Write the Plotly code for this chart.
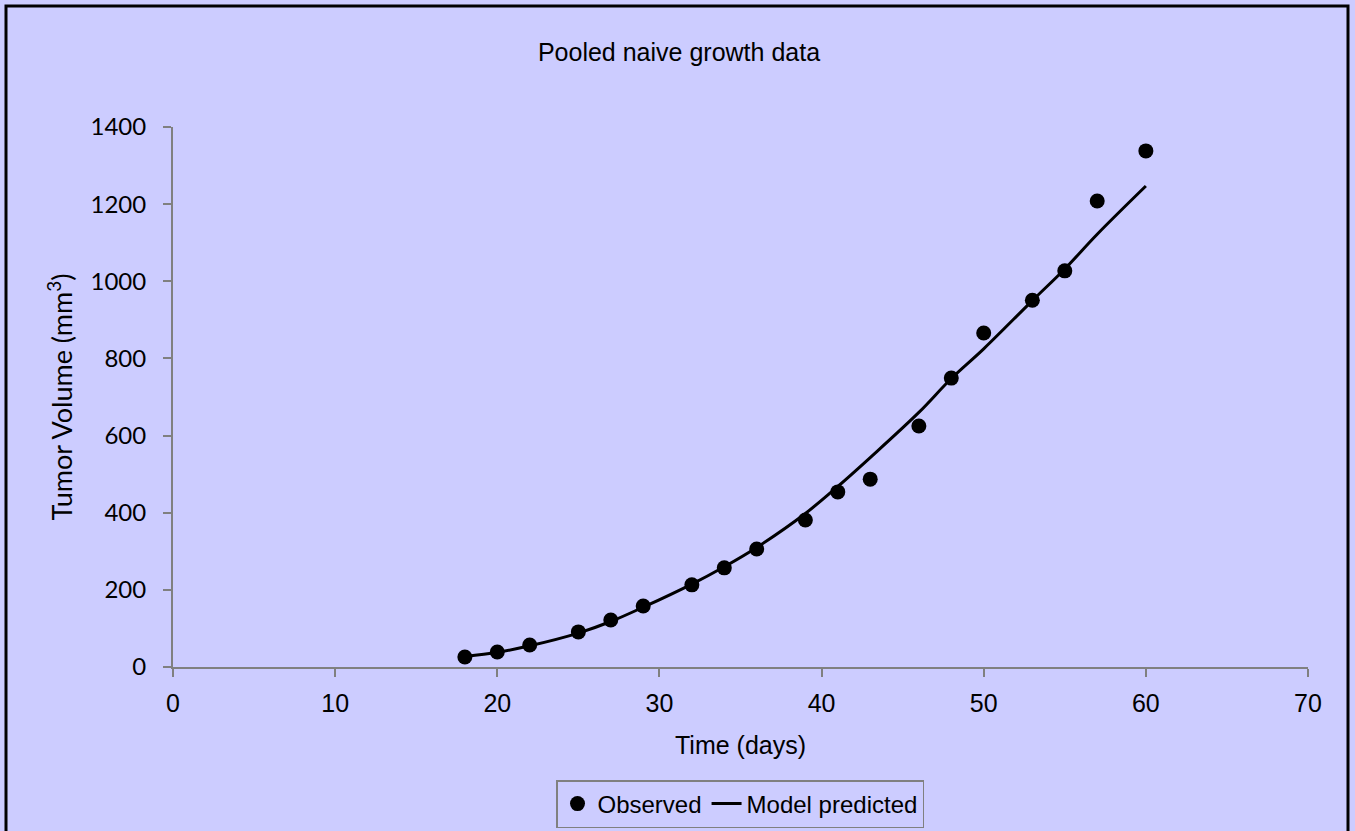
import plotly.graph_objects as go

days = [18, 20, 22, 25, 27, 29, 32, 34, 36, 39, 41, 43, 46, 48, 50, 53, 55, 57, 60]
observed = [26, 39, 57, 91, 122, 158, 213, 257, 306, 381, 454, 487, 625, 749, 866, 951, 1027, 1208, 1338]
model = [27, 38, 55, 88, 118, 155, 215, 260, 310, 398, 468, 543, 660, 748, 825, 950, 1032, 1122, 1247]

x_ticks = [0, 10, 20, 30, 40, 50, 60, 70]
y_ticks = [0, 200, 400, 600, 800, 1000, 1200, 1400]

W, H = 1355, 831
L, R, T, B = 173, 47, 127, 164
pw, ph = W - L - R, H - T - B

ARIAL = "Liberation Sans, Arial"
CALI = "Lato, Open Sans"

fig = go.Figure()
fig.add_trace(go.Scatter(x=days, y=observed, mode="markers", name="Observed",
                         marker=dict(color="black", size=15)))
fig.add_trace(go.Scatter(x=days, y=model, mode="lines", name="Model predicted",
                         line=dict(color="black", width=3, shape="spline")))

axis_col = "#808080"
fig.update_layout(
    width=W, height=H,
    margin=dict(l=L, r=R, t=T, b=B, autoexpand=False),
    paper_bgcolor="#CCCCFF", plot_bgcolor="#CCCCFF",
    title=dict(text="Pooled naive growth data", x=679 / W, xanchor="center",
               y=1 - 52 / H, yanchor="middle",
               font=dict(family=ARIAL, size=25, color="black")),
    xaxis=dict(range=[0, 70], tickvals=x_ticks, showgrid=False, zeroline=False,
               automargin=False,
               showline=True, linecolor=axis_col, linewidth=2, ticks="outside",
               tickcolor=axis_col, ticklen=8, tickwidth=1.5, ticklabelstandoff=5,
               tickfont=dict(family=ARIAL, size=25, color="black"),
               title=dict(text="Time (days)", standoff=20,
                          font=dict(family=ARIAL, size=25, color="black"))),
    yaxis=dict(range=[0, 1400], tickvals=y_ticks, showgrid=False, zeroline=False,
               automargin=False,
               showline=True, linecolor=axis_col, linewidth=2, ticks="outside",
               tickcolor=axis_col, ticklen=8, tickwidth=1.5, ticklabelstandoff=12,
               tickfont=dict(family=CALI, size=24, color="black"),
               title=dict(text="Tumor Volume (mm<sup>3</sup>)", standoff=10,
                          font=dict(family=CALI, size=27, color="black"))),
    legend=dict(orientation="h", x=(740 - L) / pw, xanchor="center",
                y=-(780 - (H - B)) / ph, yanchor="top",
                bgcolor="#CCCCFF", bordercolor=axis_col, borderwidth=1.5,
                font=dict(family=ARIAL, size=24, color="black"),
                itemwidth=30, tracegroupgap=0),
    showlegend=True,
)

fig.add_shape(type="rect", xref="paper", yref="paper",
              x0=(6 - L) / pw, x1=(1348 - L) / pw,
              y0=-(B + 20) / ph, y1=1 + (T - 6) / ph,
              line=dict(color="black", width=3), layer="above")

fig.write_html("out.html")
